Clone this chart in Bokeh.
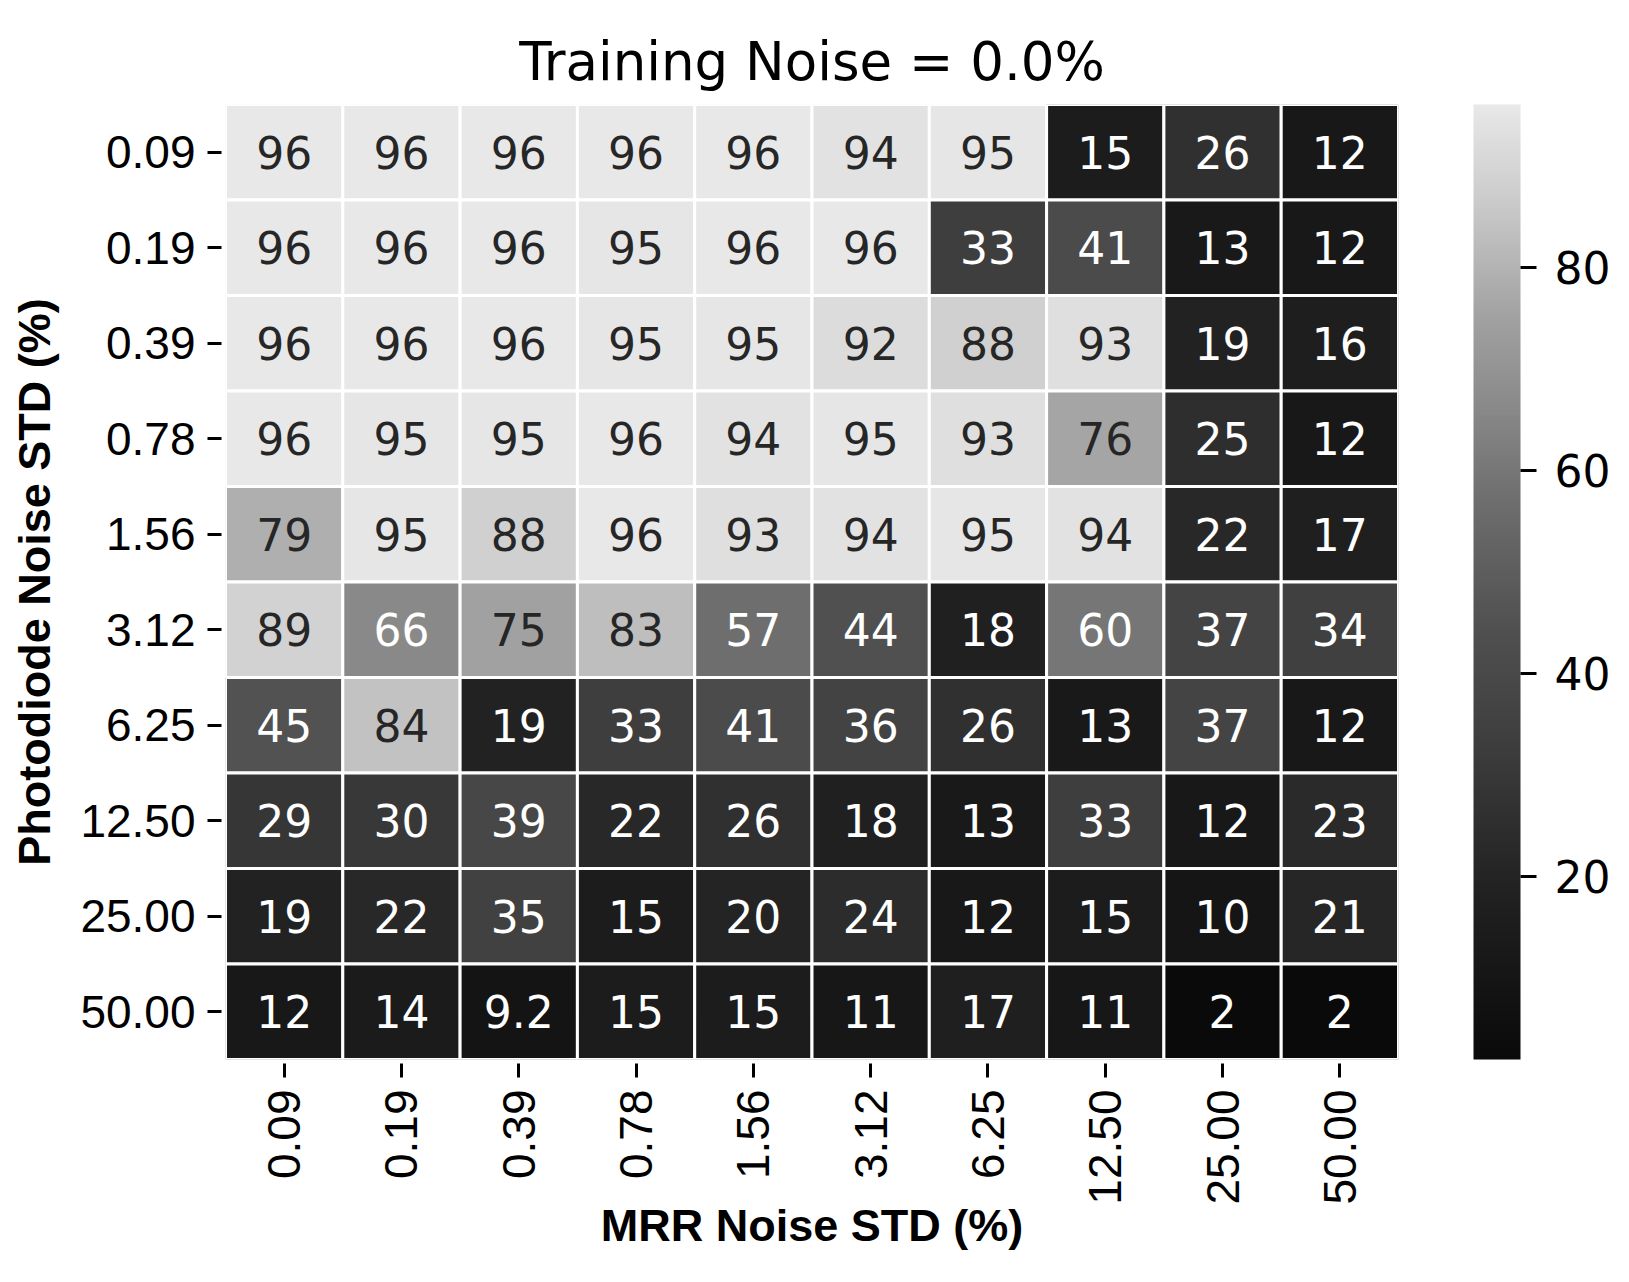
import numpy as np
from bokeh.plotting import figure
from bokeh.models import ColumnDataSource, LinearColorMapper, ColorBar, FixedTicker
from bokeh.core.properties import value
from bokeh.embed import file_html
from bokeh.resources import INLINE

# ---------------- data ----------------
mrr_labels = ["0.09", "0.19", "0.39", "0.78", "1.56", "3.12", "6.25", "12.50", "25.00", "50.00"]
pd_labels = ["0.09", "0.19", "0.39", "0.78", "1.56", "3.12", "6.25", "12.50", "25.00", "50.00"]

acc_pd_0_09 = [96, 96, 96, 96, 96, 94, 95, 15, 26, 12]
acc_pd_0_19 = [96, 96, 96, 95, 96, 96, 33, 41, 13, 12]
acc_pd_0_39 = [96, 96, 96, 95, 95, 92, 88, 93, 19, 16]
acc_pd_0_78 = [96, 95, 95, 96, 94, 95, 93, 76, 25, 12]
acc_pd_1_56 = [79, 95, 88, 96, 93, 94, 95, 94, 22, 17]
acc_pd_3_12 = [89, 66, 75, 83, 57, 44, 18, 60, 37, 34]
acc_pd_6_25 = [45, 84, 19, 33, 41, 36, 26, 13, 37, 12]
acc_pd_12_50 = [29, 30, 39, 22, 26, 18, 13, 33, 12, 23]
acc_pd_25_00 = [19, 22, 35, 15, 20, 24, 12, 15, 10, 21]
acc_pd_50_00 = [12, 14, 9.2, 15, 15, 11, 17, 11, 2, 2]

accuracy = [acc_pd_0_09, acc_pd_0_19, acc_pd_0_39, acc_pd_0_78, acc_pd_1_56,
            acc_pd_3_12, acc_pd_6_25, acc_pd_12_50, acc_pd_25_00, acc_pd_50_00]

colorbar_ticks = [20, 40, 60, 80]
value_low, value_high = 2, 96

# ---------------- colour map (grey ramp) ----------------
anchor_t = [0.0, 0.18, 0.33, 0.45, 0.59, 0.68, 0.78, 0.86, 0.91, 0.96, 1.0]
anchor_g = [10, 34, 62, 80, 111, 136, 162, 189, 206, 220, 232]
tt = np.linspace(0, 1, 256)
gg = np.interp(tt, anchor_t, anchor_g)
palette = ["#%02x%02x%02x" % (int(round(g)), int(round(g)), int(round(g))) for g in gg]
mapper = LinearColorMapper(palette=palette, low=value_low, high=value_high)

xs, ys, vs, txt, tcol = [], [], [], [], []
for i, pdl in enumerate(pd_labels):
    for j, ml in enumerate(mrr_labels):
        v = accuracy[i][j]
        xs.append(ml)
        ys.append(pdl)
        vs.append(v)
        txt.append(format(v, ".2g"))
        tcol.append("#262626" if v >= 70 else "white")

src = ColumnDataSource(dict(x=xs, y=ys, v=vs, t=txt, tc=tcol))

p = figure(width=1613, height=1266,
           x_range=mrr_labels, y_range=list(reversed(pd_labels)),
           output_backend="svg", toolbar_location=None,
           title="Training Noise = 0.0%",
           min_border_left=225, min_border_right=213,
           min_border_top=104, min_border_bottom=207)

p.rect(x="x", y="y", width=1, height=1, source=src,
       fill_color={"field": "v", "transform": mapper},
       line_color="white", line_width=3)
p.text(x="x", y="y", text="t", source=src, text_color="tc",
       text_align="center", text_baseline="middle",
       text_font=value("DejaVu Sans"), text_font_size="44px")

p.title.align = "center"
p.title.text_font = "DejaVu Sans"
p.title.text_font_style = "normal"
p.title.text_font_size = "53px"
p.title.text_color = "black"
p.title.standoff = 25

p.grid.visible = False
p.outline_line_color = None
p.background_fill_color = "white"

for ax in (p.xaxis, p.yaxis):
    ax.axis_line_color = None
    ax.major_tick_in = -4
    ax.major_tick_out = 18
    ax.major_tick_line_width = 3
    ax.major_tick_line_color = "black"
    ax.major_label_text_font = "Liberation Sans"
    ax.major_label_text_font_size = "46px"
    ax.major_label_text_color = "black"
    ax.major_label_standoff = 12
    ax.axis_label_text_font = "Liberation Sans"
    ax.axis_label_text_font_style = "bold"
    ax.axis_label_text_font_size = "45px"
    ax.axis_label_text_color = "black"

p.xaxis.major_label_orientation = np.pi / 2
p.xaxis.axis_label = "MRR Noise STD (%)"
p.yaxis.axis_label = "Photodiode Noise STD (%)"
p.xaxis.axis_label_standoff = -8
p.yaxis.axis_label_standoff = 17

cb = ColorBar(color_mapper=mapper, ticker=FixedTicker(ticks=colorbar_ticks),
              width=47, height=955, padding=0, margin=0, location=(75, 0),
              major_label_text_font="DejaVu Sans",
              major_label_text_font_size="44px",
              major_label_text_color="black",
              major_tick_out=16, major_tick_in=0,
              major_tick_line_color="black", major_tick_line_width=3,
              label_standoff=18, bar_line_color=None, border_line_color=None,
              background_fill_color=None)
p.add_layout(cb, "right")

open("out.html", "w").write(file_html(p, INLINE))
